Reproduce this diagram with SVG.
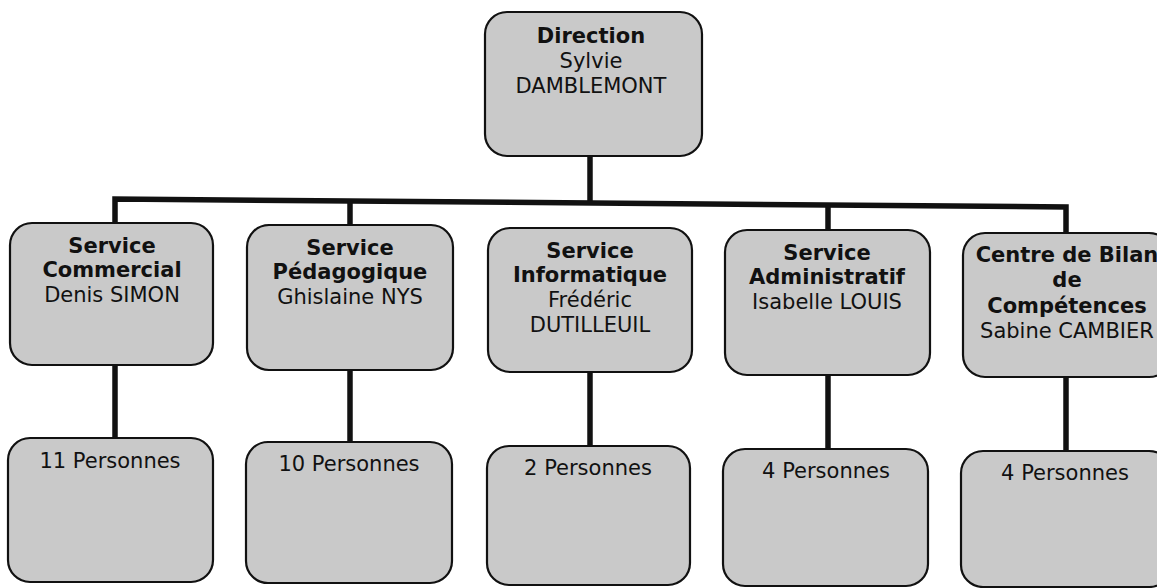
<svg xmlns="http://www.w3.org/2000/svg" width="1157" height="588" viewBox="0 0 1157 588">
<style>
.box{fill:#c9c9c9;stroke:#111;stroke-width:2.2}
.t{font-family:"DejaVu Sans","Liberation Sans",sans-serif;font-size:21px;fill:#111;text-anchor:middle}
.b{font-weight:bold}
.c{fill:none;stroke:#111;stroke-width:5.5;stroke-linejoin:miter}
</style>
<rect width="1157" height="588" fill="#ffffff"/>
<g id="connectors">
<path class="c" d="M590,156 V203"/>
<path class="c" d="M115,223 V199 L1066,207 V233"/>
<path class="c" d="M350,201 V225"/>
<path class="c" d="M828,205 V230"/>
<path class="c" d="M115,365 V438"/>
<path class="c" d="M350,370 V442"/>
<path class="c" d="M590,372 V446"/>
<path class="c" d="M828,375 V449"/>
<path class="c" d="M1066,377 V451"/>
</g>
<g id="direction">
<rect class="box" x="485" y="12" width="217" height="144" rx="22"/>
<text class="t b" x="591" y="43">Direction</text>
<text class="t" x="591" y="68">Sylvie</text>
<text class="t" x="591" y="93">DAMBLEMONT</text>
</g>
<g id="commercial">
<rect class="box" x="10" y="223" width="203" height="142" rx="22"/>
<text class="t b" x="112" y="253">Service</text>
<text class="t b" x="112" y="277">Commercial</text>
<text class="t" x="112" y="302">Denis SIMON</text>
</g>
<g id="pedagogique">
<rect class="box" x="247" y="225" width="206" height="145" rx="22"/>
<text class="t b" x="350" y="255">Service</text>
<text class="t b" x="350" y="279">Pédagogique</text>
<text class="t" x="350" y="304">Ghislaine NYS</text>
</g>
<g id="informatique">
<rect class="box" x="488" y="228" width="204" height="144" rx="22"/>
<text class="t b" x="590" y="258">Service</text>
<text class="t b" x="590" y="282">Informatique</text>
<text class="t" x="590" y="307">Frédéric</text>
<text class="t" x="590" y="332">DUTILLEUIL</text>
</g>
<g id="administratif">
<rect class="box" x="725" y="230" width="205" height="145" rx="22"/>
<text class="t b" x="827" y="260">Service</text>
<text class="t b" x="827" y="284">Administratif</text>
<text class="t" x="827" y="309">Isabelle LOUIS</text>
</g>
<g id="bilan">
<rect class="box" x="963" y="233" width="208" height="144" rx="22"/>
<text class="t b" x="1067" y="262">Centre de Bilan</text>
<text class="t b" x="1067" y="287">de</text>
<text class="t b" x="1067" y="313">Compétences</text>
<text class="t" x="1067" y="338">Sabine CAMBIER</text>
</g>
<g id="p1">
<rect class="box" x="8" y="438" width="205" height="144" rx="22"/>
<text class="t" x="110" y="468">11 Personnes</text>
</g>
<g id="p2">
<rect class="box" x="246" y="442" width="206" height="141" rx="22"/>
<text class="t" x="349" y="471">10 Personnes</text>
</g>
<g id="p3">
<rect class="box" x="487" y="446" width="203" height="139" rx="22"/>
<text class="t" x="588" y="475">2 Personnes</text>
</g>
<g id="p4">
<rect class="box" x="723" y="449" width="205" height="137" rx="22"/>
<text class="t" x="826" y="478">4 Personnes</text>
</g>
<g id="p5">
<rect class="box" x="961" y="451" width="210" height="136" rx="22"/>
<text class="t" x="1065" y="480">4 Personnes</text>
</g>
</svg>
